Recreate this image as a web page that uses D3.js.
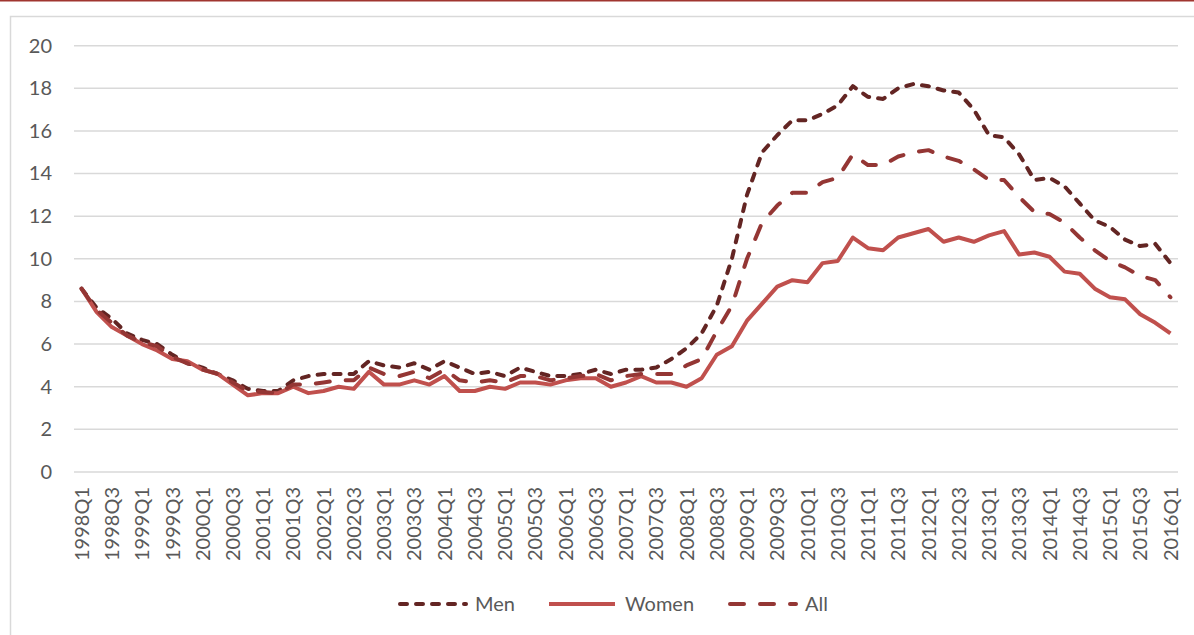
<!DOCTYPE html>
<html>
<head>
<meta charset="utf-8">
<script src="https://cdn.jsdelivr.net/npm/d3@7"></script>
<style>
  body { margin: 0; background: #fff; }
  svg { display: block; }
  .axis text { font-family: Lato, "Open Sans", sans-serif; font-size: 20px; fill: #595959; }
  .legend text { font-family: Lato, "Open Sans", sans-serif; font-size: 20px; fill: #595959; }
</style>
</head>
<body>
<div class="chart-container"></div>
<script>
const quarters = [
  "1998Q1","1998Q2","1998Q3","1998Q4","1999Q1","1999Q2","1999Q3","1999Q4",
  "2000Q1","2000Q2","2000Q3","2000Q4","2001Q1","2001Q2","2001Q3","2001Q4",
  "2002Q1","2002Q2","2002Q3","2002Q4","2003Q1","2003Q2","2003Q3","2003Q4",
  "2004Q1","2004Q2","2004Q3","2004Q4","2005Q1","2005Q2","2005Q3","2005Q4",
  "2006Q1","2006Q2","2006Q3","2006Q4","2007Q1","2007Q2","2007Q3","2007Q4",
  "2008Q1","2008Q2","2008Q3","2008Q4","2009Q1","2009Q2","2009Q3","2009Q4",
  "2010Q1","2010Q2","2010Q3","2010Q4","2011Q1","2011Q2","2011Q3","2011Q4",
  "2012Q1","2012Q2","2012Q3","2012Q4","2013Q1","2013Q2","2013Q3","2013Q4",
  "2014Q1","2014Q2","2014Q3","2014Q4","2015Q1","2015Q2","2015Q3","2015Q4",
  "2016Q1"
];

const men = [
  8.6, 7.7, 7.2, 6.5, 6.2, 6.0, 5.5, 5.1,
  4.9, 4.6, 4.3, 3.9, 3.8, 3.8, 4.3, 4.5,
  4.6, 4.6, 4.6, 5.2, 5.0, 4.9, 5.1, 4.8,
  5.2, 4.9, 4.6, 4.7, 4.5, 4.9, 4.7, 4.5,
  4.5, 4.6, 4.8, 4.6, 4.8, 4.8, 4.9, 5.3,
  5.8, 6.5, 7.8, 10.0, 13.0, 15.0, 15.8, 16.5,
  16.5, 16.8, 17.2, 18.1, 17.6, 17.5, 18.0, 18.2,
  18.1, 17.9, 17.8, 17.0, 15.8, 15.7, 14.9, 13.7,
  13.8, 13.4, 12.6, 11.8, 11.5, 10.9, 10.6, 10.7,
  9.8
];

const women = [
  8.6, 7.5, 6.8, 6.4, 6.0, 5.7, 5.3, 5.2,
  4.8, 4.6, 4.1, 3.6, 3.7, 3.7, 4.0, 3.7,
  3.8, 4.0, 3.9, 4.7, 4.1, 4.1, 4.3, 4.1,
  4.5, 3.8, 3.8, 4.0, 3.9, 4.2, 4.2, 4.1,
  4.3, 4.4, 4.4, 4.0, 4.2, 4.5, 4.2, 4.2,
  4.0, 4.4, 5.5, 5.9, 7.1, 7.9, 8.7, 9.0,
  8.9, 9.8, 9.9, 11.0, 10.5, 10.4, 11.0, 11.2,
  11.4, 10.8, 11.0, 10.8, 11.1, 11.3, 10.2, 10.3,
  10.1, 9.4, 9.3, 8.6, 8.2, 8.1, 7.4, 7.0,
  6.5
];

const all = [
  8.6, 7.6, 7.0, 6.4, 6.1, 5.9, 5.4, 5.1,
  4.8, 4.6, 4.2, 3.8, 3.75, 3.7, 4.1, 4.1,
  4.2, 4.3, 4.3, 4.9, 4.6, 4.5, 4.7, 4.4,
  4.8, 4.3, 4.2, 4.3, 4.2, 4.5, 4.5, 4.3,
  4.4, 4.5, 4.6, 4.3, 4.5, 4.6, 4.6, 4.6,
  5.0, 5.3, 6.6, 7.8, 10.0, 11.7, 12.5, 13.1,
  13.1, 13.6, 13.8, 14.9, 14.4, 14.4, 14.8, 15.0,
  15.1, 14.8, 14.6, 14.2, 13.7, 13.7, 12.9, 12.2,
  12.1, 11.7, 11.0, 10.4, 9.9, 9.6, 9.2, 9.0,
  8.2
];

const yTicks = [0, 2, 4, 6, 8, 10, 12, 14, 16, 18, 20];

const series = [
  { name: "Men", values: men, color: "#632523", dash: "7,9", legendX: 398 },
  { name: "Women", values: women, color: "#c0504d", dash: null, legendX: 547 },
  { name: "All", values: all, color: "#943634", dash: "14,16", legendX: 728 }
];

const width = 1194, height = 635;

const svg = d3.select(".chart-container")
  .append("svg")
  .attr("width", width)
  .attr("height", height);

// frame + red rule on top
svg.append("rect")
  .attr("x", 10.5).attr("y", 16.5)
  .attr("width", 1200).attr("height", 640)
  .attr("fill", "none")
  .attr("stroke", "#d9d9d9")
  .attr("stroke-width", 1.5);

svg.append("line")
  .attr("x1", 0).attr("x2", width)
  .attr("y1", 0.75).attr("y2", 0.75)
  .attr("stroke", "#a0352f")
  .attr("stroke-width", 1.5);

const x = d3.scaleBand()
  .domain(quarters)
  .range([74, 1178])
  .padding(0);

const y = d3.scaleLinear()
  .domain([0, 20])
  .range([472, 45.7]);

const cx = d => x(d) + x.bandwidth() / 2;

// gridlines
svg.append("g")
  .selectAll("line")
  .data(yTicks)
  .enter()
  .append("line")
  .attr("x1", 74).attr("x2", 1178)
  .attr("y1", d => y(d)).attr("y2", d => y(d))
  .attr("stroke", "#d9d9d9")
  .attr("stroke-width", 1.5);

// y axis labels
const yAxis = svg.append("g")
  .attr("class", "axis")
  .attr("transform", "translate(52,0)")
  .call(d3.axisLeft(y).tickValues(yTicks).tickSize(0).tickPadding(0));
yAxis.select(".domain").remove();

// x axis
const xAxis = svg.append("g")
  .attr("class", "axis")
  .attr("transform", "translate(0," + y(0) + ")")
  .call(d3.axisBottom(x)
    .tickValues(quarters.filter((d, i) => i % 2 === 0))
    .tickSize(0));
xAxis.select(".domain").remove();
xAxis.selectAll("text")
  .attr("transform", "rotate(-90)")
  .attr("text-anchor", "end")
  .attr("x", -15)
  .attr("y", 0)
  .attr("dy", "0.36em");

// lines
const line = d3.line()
  .x((d, i) => cx(quarters[i]))
  .y(d => y(d));

svg.append("g")
  .selectAll("path")
  .data(series)
  .enter()
  .append("path")
  .attr("d", d => line(d.values))
  .attr("fill", "none")
  .attr("stroke", d => d.color)
  .attr("stroke-width", 4)
  .attr("stroke-linejoin", "round")
  .attr("stroke-linecap", d => d.dash ? "round" : "butt")
  .attr("stroke-dasharray", d => d.dash);

// legend
const legend = svg.append("g")
  .attr("class", "legend")
  .selectAll("g")
  .data(series)
  .enter()
  .append("g")
  .attr("transform", d => "translate(" + d.legendX + ",604)");

legend.append("line")
  .attr("x1", 2).attr("x2", 68)
  .attr("y1", 0).attr("y2", 0)
  .attr("stroke", d => d.color)
  .attr("stroke-width", 4)
  .attr("stroke-linecap", d => d.dash ? "round" : "butt")
  .attr("stroke-dasharray", d => d.dash);

legend.append("text")
  .attr("x", d => d.name === "All" ? 77 : d.name === "Women" ? 78 : 77)
  .attr("y", 0)
  .attr("dy", "0.36em")
  .text(d => d.name);
</script>
</body>
</html>
